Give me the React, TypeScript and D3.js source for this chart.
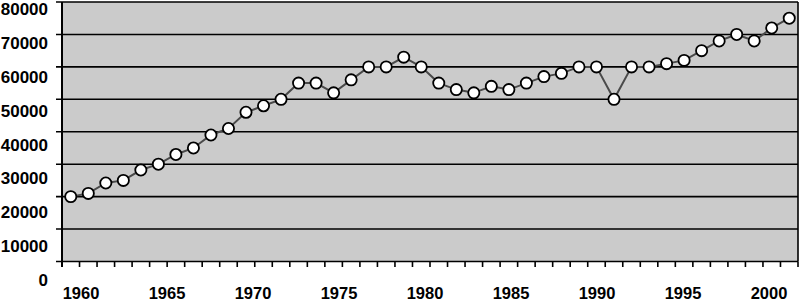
import React from "react";
import * as d3 from "d3";

const years: number[] = d3.range(1960, 2002);
const values: number[] = [
  20000, 21000, 24200, 25000, 28200, 30000, 33000, 35000, 39000, 41000,
  46000, 48000, 50000, 55000, 55000, 52000, 56000, 60000, 60000, 63000,
  60000, 55000, 53000, 52000, 54000, 53000, 55000, 57000, 58000, 60000,
  60000, 50000, 60000, 60000, 61000, 62000, 65000, 68000, 70000, 68000,
  72000, 75000,
];
const yTicks: number[] = [0, 10000, 20000, 30000, 40000, 50000, 60000, 70000, 80000];
const xLabels: number[] = [1960, 1965, 1970, 1975, 1980, 1985, 1990, 1995, 2000];

const W = 800;
const H = 304;
const left = 62;
const right = 798;
const top = 2;
const bottom = 261.5;

export default function App() {
  const x = d3.scaleBand<number>().domain(years).range([left, right]).padding(0);
  const y = d3.scaleLinear().domain([0, 80000]).range([bottom, top]);
  // label positions (labels in the picture sit on their own slightly different spacing)
  const yLab = d3.scaleLinear().domain([0, 80000]).range([286, 15]);
  const xLab = d3.scaleLinear().domain([1960, 2000]).range([81, 769]);
  const bw = x.bandwidth();
  const cx = (yr: number) => (x(yr) as number) + bw / 2;
  const line = d3
    .line<number>()
    .x((_, i) => cx(years[i]))
    .y((v) => y(v));
  const boundaries = d3.range(0, years.length + 1).map((i) => left + i * bw);
  const font = "'Liberation Sans', Arial, sans-serif";

  return (
    <svg
      width={W}
      height={H}
      style={{ position: "absolute", left: 0, top: 0, background: "#fff" }}
    >
      <rect x={left} y={top} width={right - left} height={bottom - top} fill="#cbcbcb" />
      {yTicks.map((t) => (
        <line key={t} x1={56} x2={right} y1={y(t)} y2={y(t)} stroke="#000" strokeWidth={1.6} />
      ))}
      <line x1={right} x2={right} y1={top} y2={bottom} stroke="#000" strokeWidth={1.6} />
      <line x1={left} x2={left} y1={top} y2={267} stroke="#000" strokeWidth={2} />
      {boundaries.map((b, i) => (
        <line key={i} x1={b} x2={b} y1={bottom} y2={267} stroke="#000" strokeWidth={1.6} />
      ))}
      <path d={line(values) || ""} fill="none" stroke="#4a4a4a" strokeWidth={2} />
      {values.map((v, i) => (
        <circle key={i} cx={cx(years[i])} cy={y(v)} r={5.6} fill="#fff" stroke="#000" strokeWidth={1.8} />
      ))}
      {yTicks.map((t) => (
        <text
          key={t}
          x={48}
          y={yLab(t)}
          textAnchor="end"
          fontFamily={font}
          fontWeight="bold"
          fontSize={17}
          fill="#000"
        >
          {t}
        </text>
      ))}
      {xLabels.map((yr) => (
        <text
          key={yr}
          x={xLab(yr)}
          y={299}
          textAnchor="middle"
          fontFamily={font}
          fontWeight="bold"
          fontSize={16.5}
          fill="#000"
        >
          {yr}
        </text>
      ))}
    </svg>
  );
}
